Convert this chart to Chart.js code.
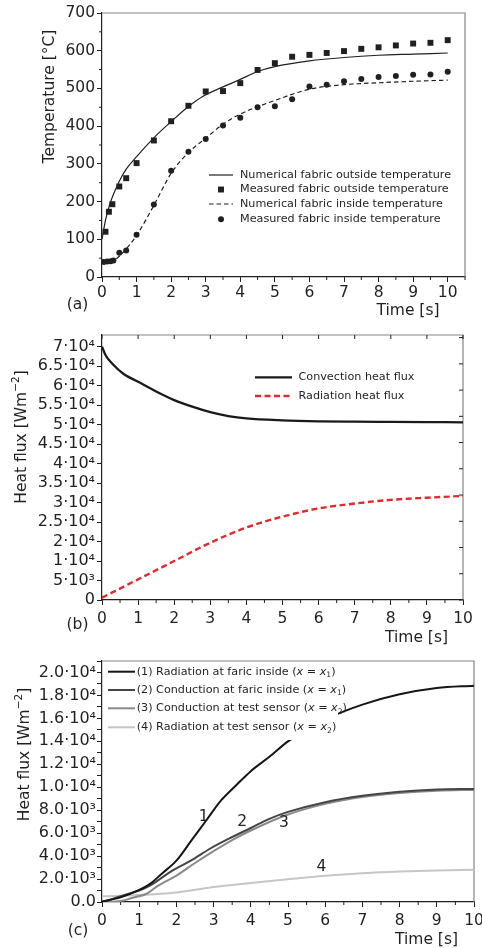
<!DOCTYPE html>
<html><head><meta charset="utf-8">
<script src="https://cdn.jsdelivr.net/npm/chart.js@4.4.1/dist/chart.umd.min.js"></script>
<style>
html,body{margin:0;padding:0;background:#fff;}
body{width:482px;height:948px;position:relative;overflow:hidden;}
canvas{position:absolute;left:0;}
</style></head><body>
<canvas id="ca" width="482" height="320" style="top:0;width:482px;height:320px"></canvas>
<canvas id="cb" width="482" height="330" style="top:320px;width:482px;height:330px"></canvas>
<canvas id="cc" width="482" height="308" style="top:640px;width:482px;height:308px"></canvas>
<script>
// ---------- Panel (a) data ----------
const tNumOut  = [0,0.1,0.2,0.3,0.5,0.7,1,1.5,2,2.5,2.9,3.5,4,4.5,5,6,7,8,9,10];
const TNumOut  = [100,150,185,212,254,286,319,369,412,452,478,504,524,545,558,573,582,588,591,594];
const tMeasOut = [0.1,0.2,0.3,0.5,0.7,1,1.5,2,2.5,3,3.5,4,4.5,5,5.5,6,6.5,7,7.5,8,8.5,9,9.5,10];
const TMeasOut = [120,173,193,240,262,302,362,413,454,492,493,514,549,567,584,589,594,599,605,609,614,619,621,628];
const tNumIn   = [0,0.3,0.5,0.75,1,1.5,2,2.5,3,3.5,4,5,6,7,8,9,10];
const TNumIn   = [40,42,55,80,110,190,275,330,368,405,432,468,498,510,515,519,522];
const tMeasIn  = [0.05,0.15,0.25,0.33,0.5,0.7,1,1.5,2,2.5,3,3.5,4,4.5,5,5.5,6,6.5,7,7.5,8,8.5,9,9.5,10];
const TMeasIn  = [40,41,42,44,64,70,112,192,282,332,366,402,422,450,453,471,505,510,519,525,530,533,536,537,544];
const xLabelsA = ['0','1','2','3','4','5','6','7','8','9','10'];
const yLabelsA = ['0','100','200','300','400','500','600','700'];

// ---------- Panel (b) data ----------
const tConv = [0,0.1,0.3,0.6,1,1.5,2,2.5,3,3.5,4,5,6,7,8,9,10];
const conv  = [65000,62800,60500,58000,56000,53500,51300,49600,48200,47200,46600,46100,45850,45750,45700,45650,45600];
const tRad  = [0,1,2,3,4,5,6,7,8,9,10];
const rad   = [600,5300,10000,14700,18600,21400,23500,24750,25700,26250,26700];
const xLabelsB = ['0','1','2','3','4','5','6','7','8','9','10'];
const yTicksB  = [0,5000,10000,15000,20000,25000,30000,35000,40000,45000,50000,55000,60000,65000];
const yLabelsB = ['0','5·10³','1·10⁴','2·10⁴','2.5·10⁴','3·10⁴','3.5·10⁴','4·10⁴','4.5·10⁴','5·10⁴','5.5·10⁴','6·10⁴','6.5·10⁴','7·10⁴'];

// ---------- Panel (c) data ----------
const tC1 = [0,0.5,1,1.3,1.6,2,2.4,2.8,3.2,3.6,4,4.5,5,6,7,8,9,10];
const vC1 = [50,400,1050,1600,2450,3600,5350,7100,8850,10150,11400,12650,14000,15900,17200,18100,18650,18850];
const tC2 = [0,0.3,0.7,1,1.3,1.9,2.4,2.9,3.4,4,4.5,5,6,7,8,9,10];
const vC2 = [0,280,700,1000,1450,2750,3620,4640,5500,6450,7250,7850,8700,9250,9600,9800,9850];
const tC3 = [0,0.5,0.8,1.2,1.5,2,2.5,3,3.5,4,5,6,7,8,9,10];
const vC3 = [0,80,350,720,1400,2300,3400,4430,5400,6230,7620,8550,9150,9500,9700,9770];
const tC4 = [0,1,2,3,4,5,6,7,8,9,10];
const vC4 = [500,600,830,1300,1650,1980,2280,2500,2650,2750,2800];
const xLabelsC = ['0','1','2','3','4','5','6','7','8','9','10'];
const yLabelsC = ['0.0','2.0·10³','4.0·10³','6.0·10³','8.0·10³','1.0·10⁴','1.2·10⁴','1.4·10⁴','1.6·10⁴','1.8·10⁴','2.0·10⁴'];
const curveNames = ['1','2','3','4'];
const curveNameT = [2.73,3.77,4.89,5.9];
const curveNameV = [7400,6950,6870,3050];

// ---------- helpers ----------
const FONT = 'DejaVu Sans';
const INK = '#231f20';
const FRAME = '#858585';
const pts = (xs, ys) => xs.map((x, i) => ({x, y: ys[i]}));
const isMult = (v, m) => Math.abs(v / m - Math.round(v / m)) < 1e-6;

function fontFor(s, size) {
  const sz = (s.sub || s.sup) ? size * 0.68 : size;
  return (s.i ? 'italic ' : '') + sz + 'px "' + FONT + '"';
}
function drawRich(ctx, segs, x, y, size, align) {
  let w = 0;
  segs.forEach(s => { ctx.font = fontFor(s, size); w += ctx.measureText(s.t).width; });
  let cx = align === 'center' ? x - w / 2 : (align === 'right' ? x - w : x);
  ctx.textAlign = 'left'; ctx.textBaseline = 'middle';
  segs.forEach(s => {
    ctx.font = fontFor(s, size);
    const dy = s.sub ? size * 0.3 : (s.sup ? -size * 0.36 : 0);
    ctx.fillText(s.t, cx, y + dy);
    cx += ctx.measureText(s.t).width;
  });
}

function deco(cfg) {
  return {
    id: 'deco',
    beforeDatasetsDraw(chart) {
      const {ctx, chartArea: a} = chart;
      ctx.save();
      ctx.strokeStyle = FRAME; ctx.lineWidth = 1.2;
      ctx.beginPath();
      ctx.moveTo(a.left, a.top); ctx.lineTo(a.right, a.top); ctx.lineTo(a.right, a.bottom);
      ctx.stroke();
      ctx.strokeStyle = INK; ctx.lineWidth = 1;
      (cfg.innerTicks || []).forEach(it => {
        const s = chart.scales[it.scale];
        s.ticks.forEach(t => {
          if (it.every && !isMult(t.value, it.every)) return;
          const p = s.getPixelForValue(t.value);
          ctx.beginPath();
          if (it.side === 'top') { ctx.moveTo(p, a.top); ctx.lineTo(p, a.top + it.len); }
          else { ctx.moveTo(a.right, p); ctx.lineTo(a.right - it.len, p); }
          ctx.stroke();
        });
      });
      // short outward minor ticks
      (cfg.minorTicks || []).forEach(it => {
        const s = chart.scales[it.scale];
        s.ticks.forEach(t => {
          if (isMult(t.value, it.major)) return;
          const p = s.getPixelForValue(t.value);
          ctx.beginPath();
          if (it.scale === 'x') { ctx.moveTo(p, a.bottom); ctx.lineTo(p, a.bottom + it.len); }
          else { ctx.moveTo(a.left, p); ctx.lineTo(a.left - it.len, p); }
          ctx.stroke();
        });
      });
      ctx.restore();
    },
    afterDatasetsDraw(chart) {
      const {ctx} = chart;
      ctx.save();
      const L = cfg.legend;
      if (L) {
        if (L.box) { ctx.fillStyle = '#fff'; ctx.fillRect(L.box[0], L.box[1], L.box[2], L.box[3]); }
        L.entries.forEach((e, i) => {
          const ds = chart.data.datasets[e.ds];
          const y = L.rows[i];
          if (ds.showLine === false) {
            ctx.fillStyle = ds.backgroundColor;
            const cx = (L.x1 + L.x2) / 2;
            ctx.beginPath();
            if (ds.pointStyle === 'rect') { const h = ds.pointRadius * Math.SQRT1_2; ctx.rect(cx - h, y - h, 2 * h, 2 * h); }
            else ctx.arc(cx, y, ds.pointRadius, 0, Math.PI * 2);
            ctx.fill();
          } else {
            ctx.strokeStyle = ds.borderColor; ctx.lineWidth = ds.borderWidth;
            ctx.setLineDash(ds.borderDash || []);
            ctx.beginPath(); ctx.moveTo(L.x1, y); ctx.lineTo(L.x2, y); ctx.stroke();
            ctx.setLineDash([]);
          }
          ctx.fillStyle = INK;
          drawRich(ctx, e.text, L.tx, y, L.size, 'left');
        });
      }
      if (cfg.curveLabels) {
        const xs = chart.scales.x, ys = chart.scales.y;
        ctx.fillStyle = INK;
        cfg.curveLabels.names.forEach((n, i) => {
          drawRich(ctx, [{t: n}], xs.getPixelForValue(cfg.curveLabels.t[i]), ys.getPixelForValue(cfg.curveLabels.v[i]), 15.5, 'center');
        });
      }
      ctx.restore();
    },
    afterDraw(chart) {
      const {ctx} = chart;
      ctx.save();
      ctx.fillStyle = INK;
      (cfg.texts || []).forEach(tx => {
        ctx.save();
        ctx.translate(tx.x, tx.y);
        if (tx.rot) ctx.rotate(-Math.PI / 2);
        drawRich(ctx, tx.segs, 0, 0, tx.size, 'center');
        ctx.restore();
      });
      ctx.restore();
    }
  };
}

const tickFont = {family: FONT, size: 15.5};
const tickFontY = {family: FONT, size: 16};
const majorOnly = m => c => (c.tick && isMult(c.tick.value, m)) ? INK : 'rgba(0,0,0,0)';
function xScale(max, labels, h, pad) {
  return {
    type: 'linear', min: 0, max: max,
    ticks: {stepSize: 0.5, autoSkip: false, maxRotation: 0, minRotation: 0, includeBounds: false, padding: pad,
      font: tickFont, color: INK,
      callback: v => (isMult(v, 1) ? labels[Math.round(v)] : '')},
    grid: {drawOnChartArea: false, drawTicks: true, tickLength: 5, color: INK, tickColor: majorOnly(1), lineWidth: 1},
    border: {display: true, color: INK, width: 1.2},
    afterFit: s => { s.height = h; s.paddingLeft = 0; s.paddingRight = 0; }
  };
}
function yScale(max, step, labelStep, labels, w, pad, font, tickMajor) {
  return {
    type: 'linear', min: 0, max: max,
    ticks: {stepSize: step, autoSkip: false, includeBounds: false, padding: pad, font: font, color: INK,
      callback: v => isMult(v, labelStep) ? labels[Math.round(v / labelStep)] : ''},
    grid: {drawOnChartArea: false, drawTicks: true, tickLength: 5, color: INK, tickColor: majorOnly(tickMajor), lineWidth: 1},
    border: {display: true, color: INK, width: 1.2},
    afterFit: s => { s.width = w; s.paddingTop = 0; s.paddingBottom = 0; }
  };
}
const common = {responsive: false, animation: false, devicePixelRatio: 1,
  plugins: {legend: {display: false}, tooltip: {enabled: false}}};

// ---------- Chart (a) ----------
new Chart(document.getElementById('ca'), {
  type: 'line',
  data: {datasets: [
    {label: 'Numerical fabric outside temperature', data: pts(tNumOut, TNumOut), borderColor: INK, borderWidth: 1.2, pointRadius: 0, cubicInterpolationMode: 'monotone'},
    {label: 'Measured fabric outside temperature', data: pts(tMeasOut, TMeasOut), showLine: false, pointStyle: 'rect', pointRadius: 4.2, backgroundColor: INK, borderWidth: 0},
    {label: 'Numerical fabric inside temperature', data: pts(tNumIn, TNumIn), borderColor: INK, borderWidth: 1.2, borderDash: [4.5, 3], pointRadius: 0, cubicInterpolationMode: 'monotone'},
    {label: 'Measured fabric inside temperature', data: pts(tMeasIn, TMeasIn), showLine: false, pointStyle: 'circle', pointRadius: 3, backgroundColor: INK, borderWidth: 0}
  ]},
  options: Object.assign({}, common, {
    layout: {padding: {top: 13, right: 17, left: 0, bottom: 0}},
    scales: {x: xScale(10.5, xLabelsA, 43, 2), y: yScale(700, 50, 100, yLabelsA, 102, 2, tickFont, 100)}
  }),
  plugins: [deco({
    minorTicks: [{scale: 'x', major: 1, len: 3}, {scale: 'y', major: 100, len: 3}],
    legend: {x1: 209, x2: 233, tx: 240, size: 11.2, rows: [175, 189.5, 204, 219.3], entries: [
      {ds: 0, text: [{t: 'Numerical fabric outside temperature'}]},
      {ds: 1, text: [{t: 'Measured fabric outside temperature'}]},
      {ds: 2, text: [{t: 'Numerical fabric inside temperature'}]},
      {ds: 3, text: [{t: 'Measured fabric inside temperature'}]}
    ]},
    texts: [
      {segs: [{t: 'Temperature [°C]'}], x: 50, y: 96.5, rot: true, size: 15.5},
      {segs: [{t: 'Time [s]'}], x: 408, y: 311, size: 15.5},
      {segs: [{t: '(a)'}], x: 77.5, y: 305, size: 15.5}
    ]
  })]
});

// ---------- Chart (b) ----------
new Chart(document.getElementById('cb'), {
  type: 'line',
  data: {datasets: [
    {label: 'Convection heat flux', data: pts(tConv, conv), borderColor: '#1a1a1a', borderWidth: 2.3, pointRadius: 0, cubicInterpolationMode: 'monotone'},
    {label: 'Radiation heat flux', data: pts(tRad, rad), borderColor: '#e42a2c', borderWidth: 2.4, borderDash: [6, 3.5], pointRadius: 0, cubicInterpolationMode: 'monotone'}
  ]},
  options: Object.assign({}, common, {
    layout: {padding: {top: 15, right: 19, left: 0, bottom: 0}},
    scales: {
      x: xScale(10, xLabelsB, 50, 5),
      y: {
        type: 'linear', min: 0, max: 68000,
        afterBuildTicks: s => { s.ticks = yTicksB.map(v => ({value: v})); },
        ticks: {autoSkip: false, padding: 2, font: tickFontY, color: INK,
          callback: (v, i) => yLabelsB[yTicksB.indexOf(v)] ?? yLabelsB[i]},
        grid: {drawOnChartArea: false, drawTicks: true, tickLength: 5, color: INK, lineWidth: 1},
        border: {display: true, color: INK, width: 1.2},
        afterFit: s => { s.width = 102; s.paddingTop = 0; s.paddingBottom = 0; }
      },
      y2: {type: 'linear', position: 'right', min: 0, max: 10.1,
        ticks: {display: false, stepSize: 1, includeBounds: false},
        grid: {drawOnChartArea: false, drawTicks: false}, border: {display: false},
        afterFit: s => { s.width = 0; s.paddingTop = 0; s.paddingBottom = 0; }}
    }
  }),
  plugins: [deco({
    innerTicks: [{scale: 'x', side: 'top', len: 4, every: 1}, {scale: 'y2', side: 'right', len: 4}],
    minorTicks: [{scale: 'x', major: 1, len: 3}],
    legend: {x1: 255, x2: 292, tx: 298.5, size: 11.2, rows: [57.3, 76], entries: [
      {ds: 0, text: [{t: 'Convection heat flux'}]},
      {ds: 1, text: [{t: 'Radiation heat flux'}]}
    ]},
    texts: [
      {segs: [{t: 'Heat flux [Wm'}, {t: '−2', sup: 1}, {t: ']'}], x: 22, y: 117, rot: true, size: 15.5},
      {segs: [{t: 'Time [s]'}], x: 416.5, y: 318, size: 15.5},
      {segs: [{t: '(b)'}], x: 77.5, y: 305, size: 15.5}
    ]
  })]
});

// ---------- Chart (c) ----------
const sub = n => ({t: n, sub: 1});
new Chart(document.getElementById('cc'), {
  type: 'line',
  data: {datasets: [
    {label: '(1) Radiation at faric inside', data: pts(tC1, vC1), borderColor: '#161616', borderWidth: 2, pointRadius: 0, cubicInterpolationMode: 'monotone'},
    {label: '(2) Conduction at faric inside', data: pts(tC2, vC2), borderColor: '#454545', borderWidth: 2, pointRadius: 0, cubicInterpolationMode: 'monotone'},
    {label: '(3) Conduction at test sensor', data: pts(tC3, vC3), borderColor: '#8a8a8a', borderWidth: 2, pointRadius: 0, cubicInterpolationMode: 'monotone'},
    {label: '(4) Radiation at test sensor', data: pts(tC4, vC4), borderColor: '#c6c6c6', borderWidth: 2, pointRadius: 0, cubicInterpolationMode: 'monotone'}
  ]},
  options: Object.assign({}, common, {
    layout: {padding: {top: 21, right: 8, left: 0, bottom: 0}},
    scales: {x: xScale(10, xLabelsC, 46, 5), y: yScale(21000, 1000, 2000, yLabelsC, 102, 1, tickFontY, 1000)}
  }),
  plugins: [deco({
    minorTicks: [{scale: 'x', major: 1, len: 3}],
    legend: {box: [103, 22, 235, 78], x1: 108, x2: 135, tx: 136.7, size: 11.2, rows: [31.7, 50, 68.3, 87.3], entries: [
      {ds: 0, text: [{t: '(1) Radiation at faric inside ('}, {t: 'x', i: 1}, {t: ' = '}, {t: 'x', i: 1}, sub('1'), {t: ')'}]},
      {ds: 1, text: [{t: '(2) Conduction at faric inside ('}, {t: 'x', i: 1}, {t: ' = '}, {t: 'x', i: 1}, sub('1'), {t: ')'}]},
      {ds: 2, text: [{t: '(3) Conduction at test sensor ('}, {t: 'x', i: 1}, {t: ' = '}, {t: 'x', i: 1}, sub('2'), {t: ')'}]},
      {ds: 3, text: [{t: '(4) Radiation at test sensor ('}, {t: 'x', i: 1}, {t: ' = '}, {t: 'x', i: 1}, sub('2'), {t: ')'}]}
    ]},
    curveLabels: {names: curveNames, t: curveNameT, v: curveNameV},
    texts: [
      {segs: [{t: 'Heat flux [Wm'}, {t: '−2', sup: 1}, {t: ']'}], x: 25, y: 114.5, rot: true, size: 15.5},
      {segs: [{t: 'Time [s]'}], x: 426.5, y: 300, size: 15.5},
      {segs: [{t: '(c)'}], x: 78, y: 291, size: 15.5}
    ]
  })]
});
</script>
</body></html>
